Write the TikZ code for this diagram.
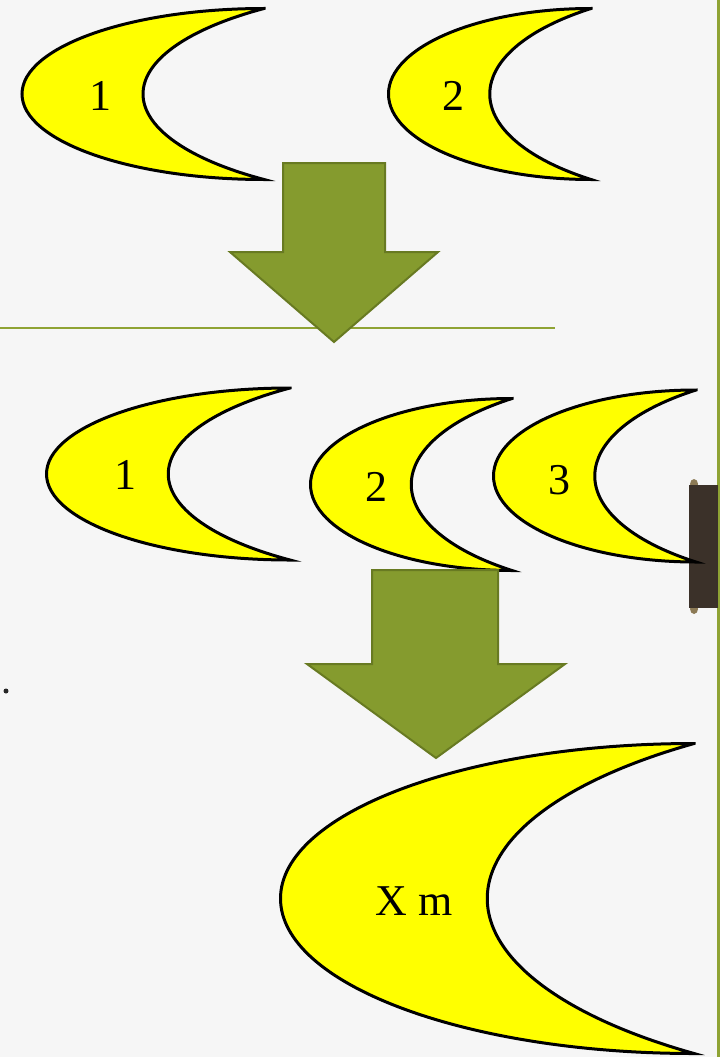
\documentclass[tikz,border=0pt]{standalone}
\usepackage{fontspec}
\setmainfont{Liberation Serif}
\definecolor{bgc}{HTML}{F6F6F6}
\definecolor{olive}{HTML}{859B2E}
\definecolor{olivedark}{HTML}{687A22}
\definecolor{oliveline}{HTML}{8FA334}
\definecolor{moony}{HTML}{FFFF00}
\definecolor{barc}{HTML}{3B3129}
\definecolor{knob}{HTML}{8C7A55}
\tikzset{
  moonshape/.style={fill=moony,draw=black,line width=3pt,miter limit=12},
  bigarrow/.style={fill=olive,draw=olivedark,line width=2pt},
  moonlabel/.style={font=\fontsize{44}{44}\selectfont,inner sep=0pt,anchor=center},
}
% PowerPoint-like moon: #1 left x, #2 tip x, #3 centre y (page px, y down), #4 half height, #5 adj (0..1)
\newcommand{\drawmoon}[5]{%
  \pgfmathsetmacro\mW{#2-#1}%
  \pgfmathsetmacro\mGs{(2-(#5)*(#5))/(2*(1-(#5)))}%
  \pgfmathsetmacro\mGe{\mGs-(#5)}%
  \pgfmathsetmacro\mBe{atan(1/(\mGs-1))}%
  \pgfmathsetmacro\mRx{\mGe*\mW}%
  \pgfmathsetmacro\mRy{\mGe*(#4)}%
  \filldraw[moonshape] (#2,{-(#3)+(#4)})
    arc[start angle=90,end angle=270,x radius=\mW,y radius=#4]
    arc[start angle=180+\mBe,end angle=180-\mBe,x radius=\mRx,y radius=\mRy] -- cycle;}
\begin{document}
\begin{tikzpicture}[x=1pt,y=1pt]
\fill[bgc] (0,0) rectangle (720,-1057);
\useasboundingbox (0,0) rectangle (720,-1057);
% lines
\draw[oliveline,line width=2.6pt] (0,-328) -- (555,-328);
\draw[oliveline,line width=2.8pt] (718.6,0) -- (718.6,-1057);
\fill[black!85] (6,-691) circle (2.5);
% side bar
\fill[knob] (694,-484) ellipse (4 and 5);
\fill[knob] (694,-609) ellipse (4 and 5);
\fill[barc] (689,-485) rectangle (717.5,-608);
% top row
\drawmoon{22}{264}{94}{85.5}{0.5}
\drawmoon{388.5}{591}{94}{85.5}{0.5}
\node[moonlabel] (t1) at (100,-96) {1};
\node[moonlabel] (t2) at (453,-96) {2};
% arrow 1
\draw[bigarrow] (283,-163) -- (385,-163) -- (385,-252) -- (438,-252) -- (334,-342) -- (230,-252) -- (283,-252) -- cycle;
% middle row
\drawmoon{46.5}{290}{474}{86}{0.5}
\drawmoon{310.5}{512}{484.5}{86}{0.5}
\drawmoon{493.5}{696}{476}{86}{0.5}
\node[moonlabel] (m1) at (125,-475) {1};
\node[moonlabel] (m2) at (376,-487) {2};
\node[moonlabel] (m3) at (559,-480) {3};
% arrow 2
\draw[bigarrow] (372,-570) -- (498,-570) -- (498,-664) -- (565,-664) -- (436,-758) -- (307,-664) -- (372,-664) -- cycle;
% bottom moon
\drawmoon{280.5}{694}{898.5}{155}{0.5}
\node[moonlabel] (xm) at (414,-901) {X m};
\end{tikzpicture}
\end{document}
